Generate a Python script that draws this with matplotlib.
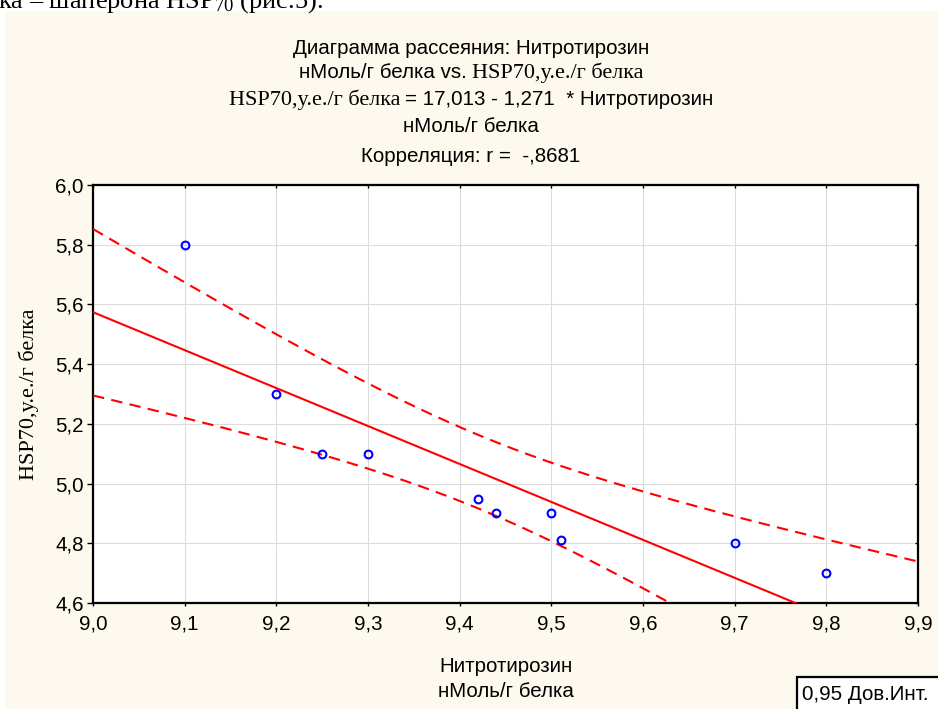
import numpy as np
import matplotlib
matplotlib.use("Agg")
import matplotlib.pyplot as plt
from matplotlib.patches import Rectangle
from matplotlib.ticker import FuncFormatter, MultipleLocator

SANS = "Liberation Sans"
SERIF = "Liberation Serif"
plt.rcParams["mathtext.fontset"] = "custom"
plt.rcParams["mathtext.rm"] = SERIF
plt.rcParams["mathtext.it"] = SERIF + ":italic"

# nitrotyrosine (nmol/g protein) vs HSP70 (c.u./g protein)
nitrotyrosine = np.array([9.10, 9.20, 9.25, 9.30, 9.42, 9.44, 9.50, 9.51, 9.70, 9.80])
hsp70 = np.array([5.80, 5.30, 5.10, 5.10, 4.95, 4.90, 4.90, 4.81, 4.80, 4.70])

intercept = 17.013
slope = -1.271
r_value = -0.8681
conf_level = 0.95
t_crit = 2.306  # Student t, 0.975, df = 8

x_name = "Нитротирозин"
x_unit = "нМоль/г белка"
y_name = "HSP70,у.е./г белка"

W, H = 938, 709
fig = plt.figure(figsize=(W / 100, H / 100), dpi=100)
fig.patch.set_facecolor("white")

# cream background panel
fig.add_artist(Rectangle((5 / W, 0), 1, 1 - 11 / H, transform=fig.transFigure,
                         facecolor="#FDF9EE", edgecolor="none", zorder=-1))

# tail of the paragraph above
fig.text(-0.002, 1 - 8 / H, "ка – шаперона HSP$_{70}$ (рис.5).",
         family=SERIF, size=19, va="baseline", ha="left")

ax = fig.add_axes([93 / W, 1 - 603 / H, (918 - 93) / W, (603 - 185) / H])
ax.set_facecolor("white")

# regression line and confidence band
xs = np.linspace(9.0, 9.9, 300)
fit = intercept + slope * xs
n = len(nitrotyrosine)
resid = hsp70 - (intercept + slope * nitrotyrosine)
s = np.sqrt(np.sum(resid ** 2) / (n - 2))
x_mean = nitrotyrosine.mean()
sxx = np.sum((nitrotyrosine - x_mean) ** 2)
half = t_crit * s * np.sqrt(1 / n + (xs - x_mean) ** 2 / sxx)

ax.plot(xs, fit, color="#FF0000", lw=1.5, zorder=3)
ax.plot(xs, fit + half, color="#FF0000", lw=1.5, dashes=(5.5, 3.5), zorder=3)
ax.plot(xs, fit - half, color="#FF0000", lw=1.5, dashes=(5.5, 3.5), zorder=3)
ax.plot(nitrotyrosine, hsp70, "o", ms=5.6, mfc="none", mec="#0000FF", mew=1.5, zorder=4)

ax.set_xlim(9.0, 9.9)
ax.set_ylim(4.6, 6.0)
ax.xaxis.set_major_locator(MultipleLocator(0.1))
ax.yaxis.set_major_locator(MultipleLocator(0.2))
comma = FuncFormatter(lambda v, p: f"{v:.1f}".replace(".", ","))
ax.xaxis.set_major_formatter(comma)
ax.yaxis.set_major_formatter(comma)
ax.grid(True, color="#DCDCDC", lw=0.8, zorder=0)
ax.set_axisbelow(True)

for sp in ax.spines.values():
    sp.set_linewidth(1.6)
ax.tick_params(axis="x", direction="out", length=2.5, width=1, pad=6,
               labelsize=14.8, labelfontfamily=SANS)
ax.tick_params(axis="y", direction="out", length=4, width=1, pad=2.5,
               labelsize=14.8, labelfontfamily=SANS)
ax.tick_params(right=True, top=True, which="major")
for t in ax.yaxis.get_major_ticks():
    t.tick2line.set_marker(matplotlib.lines.TICKLEFT)
    t.tick2line.set_markersize(2.5)
for t in ax.xaxis.get_major_ticks():
    t.tick2line.set_marker(matplotlib.lines.TICKDOWN)
    t.tick2line.set_markersize(2.5)

# axis titles
fig.text(505.5 / W, 1 - 672 / H, x_name, family=SANS, size=14.8, ha="center", va="baseline")
fig.text(505.5 / W, 1 - 697 / H, x_unit, family=SANS, size=14.8, ha="center", va="baseline")
fig.text(29 / W, 1 - 394 / H, y_name, family=SERIF, size=16, rotation=90,
         ha="center", va="center")


def mixed_line(y_px, parts, xc_px=471, gap=5):
    renderer = fig.canvas.get_renderer()
    texts = [fig.text(0, 1 - y_px / H, txt, va="baseline", ha="left", **kw)
             for txt, kw in parts]
    widths = [t.get_window_extent(renderer).width for t in texts]
    total = sum(widths) + gap * (len(texts) - 1)
    x = xc_px - total / 2
    for t, w in zip(texts, widths):
        t.set_x(x / W)
        x += w + gap


sans = dict(family=SANS, size=14.8)
serif = dict(family=SERIF, size=16)
fmt = lambda v: f"{v:.3f}".replace(".", ",")
r_txt = f"{r_value:.4f}".replace("0.", ",")

mixed_line(54, [(f"Диаграмма рассеяния: {x_name}", sans)])
mixed_line(78, [(f"{x_unit} vs.", sans), (y_name, serif)])
mixed_line(105, [(y_name, serif),
                 (f"= {fmt(intercept)} - {fmt(abs(slope))}  * {x_name}", sans)])
mixed_line(132, [(x_unit, sans)])
mixed_line(162, [(f"Корреляция: r =  {r_txt}", sans)])

# confidence-interval key
fig.add_artist(Rectangle((797 / W, -0.02), 0.2, (709 - 677) / H + 0.02,
                         transform=fig.transFigure, facecolor="white",
                         edgecolor="black", lw=1.6, zorder=2))
fig.text(802 / W, 1 - 700 / H, f"{conf_level:.2f}".replace(".", ",") + " Дов.Инт.",
         family=SANS, size=14.8, ha="left", va="baseline", zorder=3)

fig.savefig("out.png", dpi=100)
